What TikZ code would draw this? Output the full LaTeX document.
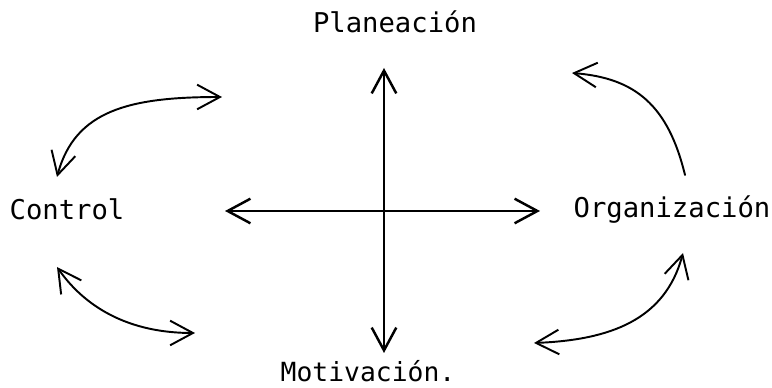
\documentclass[tikz,border=0pt]{standalone}
\usepackage{fontspec}
\newfontfamily\typefont{DejaVu Sans Mono}
\usetikzlibrary{positioning, arrows.meta}

\begin{document}
\begin{tikzpicture}[
    x=0.02cm, y=-0.02cm,     % 1単位 = 参照画像の1ピクセル
    line width=1.4pt,
    >={Straight Barb[length=13pt, width=14pt]},
    font=\typefont\fontsize{15.5}{18}\selectfont,
    etiqueta/.style={anchor=base, inner sep=0pt},
    curva/.style={line width=1.1pt, line cap=round}
]
    \useasboundingbox (0,0) rectangle (772,388);

    % --- 1. 四つのラベル ---
    \node [etiqueta] (plan)  at (395,33)  {Planeación};
    \node [etiqueta] (ctrl)  at (67,220)  {Control};
    \node [etiqueta] (org)   at (672,218) {Organización};
    \node [etiqueta, font=\typefont\fontsize{15}{18}\selectfont] (motiv) at (368,382) {Motivación.};

    % --- 2. 中央の十字矢印 ---
    \coordinate (centro) at (384,211);
    \coordinate (arriba) at (384,68);
    \coordinate (abajo)  at (384,353);
    \coordinate (izq)    at (225,211);
    \coordinate (der)    at (540,211);

    \draw [->] (centro) -- (arriba);
    \draw [->] (centro) -- (abajo);
    \draw [->] (centro) -- (izq);
    \draw [->] (centro) -- (der);

    % --- 3. 曲線の矢印 ---
    \coordinate (ctrl_a)  at (57,177);
    \coordinate (ctrl_b)  at (222,97);
    \coordinate (ctrl_c)  at (57,267);
    \coordinate (ctrl_d)  at (195,333);
    \coordinate (org_a)   at (685,175);
    \coordinate (org_b)   at (572,73);
    \coordinate (org_c)   at (683,253);
    \coordinate (org_d)   at (534,343);

    % 【左上】両矢印
    \draw [curva, <->] (ctrl_a) .. controls (75,110) and (130,97) .. (ctrl_b);
    % 【左下】両矢印
    \draw [curva, <->] (ctrl_c) .. controls (80,300) and (120,333) .. (ctrl_d);
    % 【右上】片矢印
    \draw [curva, ->] (org_a) .. controls (668,105) and (635,78) .. (org_b);
    % 【右下】両矢印
    \draw [curva, <->] (org_c) .. controls (665,320) and (610,340) .. (org_d);

\end{tikzpicture}
\end{document}
